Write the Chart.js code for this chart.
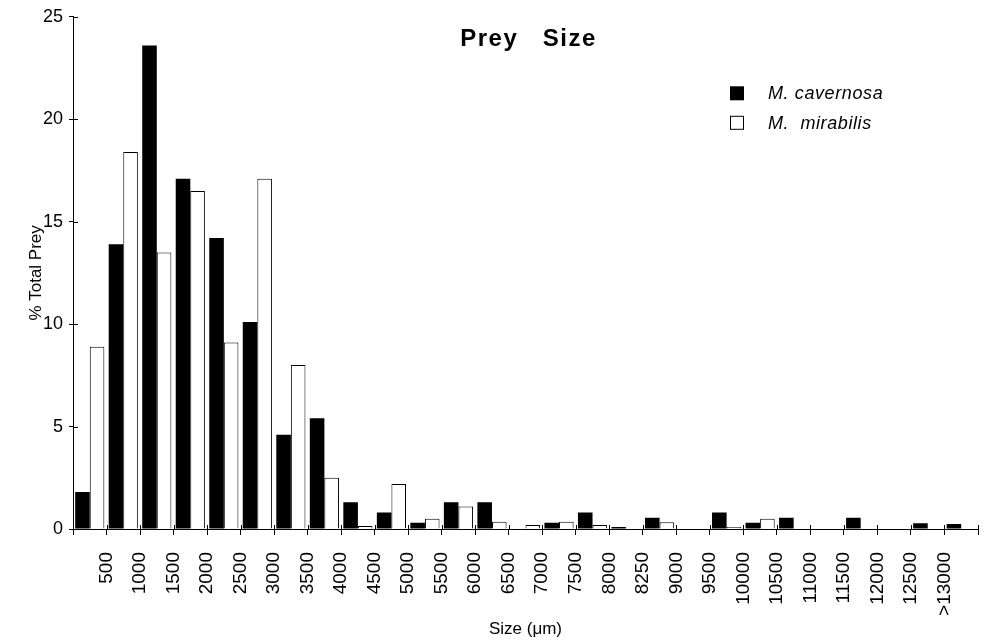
<!DOCTYPE html>
<html>
<head>
<meta charset="utf-8">
<title>Prey Size</title>
<script src="https://cdn.jsdelivr.net/npm/chart.js@4/dist/chart.umd.min.js"></script>
<style>
  html, body { margin: 0; padding: 0; background: #fff; }
  #wrap { width: 985px; height: 644px; position: relative; }
</style>
</head>
<body>
<div id="wrap"><canvas id="c"></canvas></div>
<script>
// Size-class tick labels (upper bound of each bin); the last bin lies beyond ">13000"
const tickLabels = ['500','1000','1500','2000','2500','3000','3500','4000','4500','5000','5500','6000','6500','7000','7500','8000','8250','9000','9500','10000','10500','11000','11500','12000','12500','>13000'];
const sizeBins = tickLabels.concat(['']);

// % Total Prey for each species
const cavernosa = [1.8, 13.9, 23.6, 17.1, 14.2, 10.1, 4.6, 5.4, 1.3, 0.8, 0.3, 1.3, 1.3, 0, 0.3, 0.8, 0.1, 0.55, 0, 0.8, 0.3, 0.55, 0, 0.55, 0, 0.28, 0.25];
const mirabilis = [8.9, 18.4, 13.5, 16.5, 9.1, 17.1, 8.0, 2.5, 0.15, 2.2, 0.5, 1.1, 0.35, 0.2, 0.35, 0.2, 0, 0.33, 0, 0.1, 0.5, 0, 0, 0, 0, 0, 0];

const yTicks = [0, 5, 10, 15, 20, 25];
const seriesNames = ['M. cavernosa', 'M.  mirabilis'];
const chartTitle = 'Prey   Size';

const FONT = "'Liberation Sans', Arial, Helvetica, sans-serif";

const extras = {
  id: 'extras',
  afterDraw(chart) {
    const ctx = chart.ctx;
    const a = chart.chartArea;
    const xs = chart.scales.x, ys = chart.scales.y;
    ctx.save();
    // inward tick marks
    ctx.strokeStyle = '#000';
    ctx.lineWidth = 1;
    ctx.beginPath();
    yTicks.forEach(v => {
      const py = Math.round(ys.getPixelForValue(v)) + 0.5;
      ctx.moveTo(a.left, py); ctx.lineTo(a.left + 5, py);
    });
    for (let i = 0; i <= sizeBins.length; i++) {
      const px = Math.round(xs.getPixelForValue(i - 0.5)) + 0.5;
      ctx.moveTo(px, a.bottom); ctx.lineTo(px, a.bottom - 4);
    }
    ctx.stroke();

    // title
    ctx.fillStyle = '#000';
    ctx.font = 'bold 24px ' + FONT;
    if ('letterSpacing' in ctx) ctx.letterSpacing = '1.5px';
    ctx.textAlign = 'center';
    ctx.textBaseline = 'middle';
    ctx.fillText(chartTitle, (a.left + a.right) / 2 + 3, a.top + 23);

    // legend
    const ds = chart.data.datasets;
    const sqX = a.right - 248;
    const rowY = [a.top + 76.5, a.top + 106];
    ctx.font = 'italic 18px ' + FONT;
    if ('letterSpacing' in ctx) ctx.letterSpacing = '0.6px';
    ctx.textAlign = 'left';
    ds.forEach((d, i) => {
      const cy = rowY[i];
      if (i === 0) {
        ctx.fillStyle = '#000';
        ctx.fillRect(sqX, cy - 7, 14, 14);
      } else {
        ctx.strokeStyle = '#000';
        ctx.lineWidth = 1;
        ctx.strokeRect(sqX + 0.5, cy - 6.5, 13, 13);
      }
      ctx.fillStyle = '#000';
      ctx.fillText(d.label, sqX + 38, cy + 1);
    });
    ctx.restore();
  }
};

new Chart(document.getElementById('c'), {
  type: 'bar',
  data: {
    labels: sizeBins,
    datasets: [
      { label: seriesNames[0], data: cavernosa, backgroundColor: '#000', borderWidth: 0 },
      { label: seriesNames[1], data: mirabilis, backgroundColor: '#fff', borderColor: '#000', borderWidth: 1 }
    ]
  },
  options: {
    responsive: true,
    maintainAspectRatio: false,
    animation: false,
    devicePixelRatio: 1,
    layout: { padding: { left: 0, right: 7, top: 16, bottom: 4 } },
    datasets: { bar: { categoryPercentage: 0.87, barPercentage: 1.0 } },
    plugins: {
      legend: { display: false },
      title: { display: false },
      tooltip: { enabled: false }
    },
    scales: {
      x: {
        type: 'category',
        offset: true,
        afterFit(scale) { scale.height = 111; scale.paddingLeft = 0; scale.paddingRight = 0; },
        border: { display: true, color: '#000', width: 1 },
        grid: { display: true, drawOnChartArea: false, drawTicks: true, tickLength: 6, color: '#000', offset: true },
        ticks: {
          autoSkip: false, minRotation: 90, maxRotation: 90,
          labelOffset: 16.75, padding: 17, color: '#000',
          font: { family: FONT, size: 19 }
        },
        title: { display: true, text: 'Size (μm)', color: '#000', font: { family: FONT, size: 17 }, padding: { top: 0, bottom: 0 } }
      },
      y: {
        min: 0, max: 25,
        afterFit(scale) { scale.width = 73; },
        afterBuildTicks(scale) { scale.ticks = yTicks.map(v => ({ value: v })); },
        border: { display: true, color: '#000', width: 1 },
        grid: { display: true, drawOnChartArea: false, drawTicks: true, tickLength: 4, color: '#000' },
        ticks: { color: '#000', padding: 6, font: { family: FONT, size: 18 } },
        title: { display: true, text: '% Total Prey', color: '#000', font: { family: FONT, size: 17 }, padding: { top: 26, bottom: 0 } }
      }
    }
  },
  plugins: [extras]
});
</script>
</body>
</html>
